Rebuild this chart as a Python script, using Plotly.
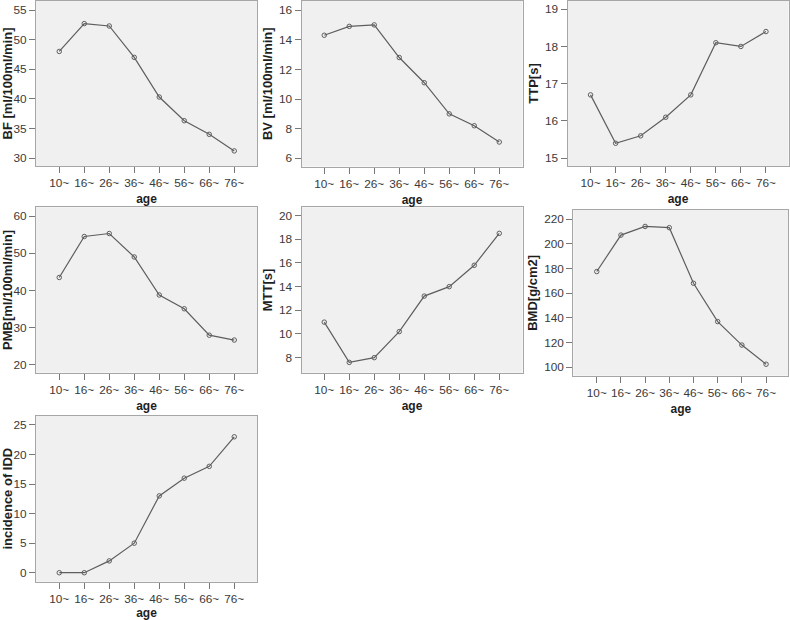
import plotly.graph_objects as go

W, H = 790, 620

age_groups = ["10~", "16~", "26~", "36~", "46~", "56~", "66~", "76~"]

bf_values = [48.0, 52.7, 52.3, 47.0, 40.3, 36.3, 34.0, 31.2]
bv_values = [14.3, 14.9, 15.0, 12.8, 11.1, 9.0, 8.2, 7.1]
ttp_values = [16.7, 15.4, 15.6, 16.1, 16.7, 18.1, 18.0, 18.4]
pmb_values = [43.5, 54.5, 55.3, 49.0, 38.8, 35.1, 28.0, 26.7]
mtt_values = [11.0, 7.6, 8.0, 10.2, 13.2, 14.0, 15.8, 18.5]
bmd_values = [177.5, 207.0, 214.0, 213.0, 168.0, 137.0, 118.0, 102.5]
idd_values = [0, 0, 2, 5, 13, 16, 18, 23]

y_titles = ["BF [ml/100ml/min]", "BV [ml/100ml/min]", "TTP[s]",
            "PMB[ml/100ml/min]", "MTT[s]", "BMD[g/cm2]", "incidence of IDD"]
x_title = "age"

series = [bf_values, bv_values, ttp_values, pmb_values, mtt_values, bmd_values, idd_values]

# panel boxes in pixels: (left, right, top, bottom)
boxes = [
    (36, 257, 1, 166),
    (301.5, 522.5, 1, 166.5),
    (567.5, 788.5, 1, 166),
    (36, 257, 207.3, 372.7),
    (301.5, 522.5, 207.3, 372.7),
    (573.3, 788.3, 210, 375.7),
    (36, 257, 415.7, 581.7),
]
y_ranges = [
    (28.65, 56.52), (5.45, 16.61), (14.79, 19.22),
    (17.93, 62.34), (6.73, 20.7), (93.2, 227.3), (-1.52, 26.57),
]
y_dticks = [5, 2, 1, 10, 2, 20, 5]
x_ranges = [
    (-0.93, 7.91), (-0.91, 7.93), (-0.92, 7.9),
    (-0.93, 7.91), (-0.91, 7.93), (-0.97, 7.92), (-0.93, 7.91),
]

FONT = "Liberation Sans, Arial, sans-serif"
fig = go.Figure()
layout = {}
for i, vals in enumerate(series):
    n = i + 1
    xa = "x" if n == 1 else f"x{n}"
    ya = "y" if n == 1 else f"y{n}"
    fig.add_trace(go.Scatter(
        x=age_groups, y=vals, xaxis=xa, yaxis=ya, mode="lines+markers",
        line=dict(color="#5e5e5e", width=1.2),
        marker=dict(symbol="circle-open", size=4.5, color="#5e5e5e", line=dict(width=1)),
        showlegend=False, hoverinfo="x+y",
    ))
    l, r, t, b = boxes[i]
    common = dict(showline=True, mirror=True, linecolor="#a6a6a6", linewidth=1,
                  showgrid=False, zeroline=False, ticks="outside", ticklen=6,
                  tickcolor="#777777", tickwidth=1, automargin=False,
                  tickfont=dict(family=FONT, size=11.8, color="#3a3a3a"))
    layout["xaxis" if n == 1 else f"xaxis{n}"] = dict(
        common, domain=[l / W, r / W], anchor=ya, type="category",
        range=list(x_ranges[i]),
        title=dict(text=x_title, font=dict(family=FONT, size=12, color="#1e1e1e", weight="bold"),
                   standoff=5),
    )
    layout["yaxis" if n == 1 else f"yaxis{n}"] = dict(
        common, domain=[1 - b / H, 1 - t / H], anchor=xa,
        range=list(y_ranges[i]), dtick=y_dticks[i], tick0=0,
        title=dict(text=y_titles[i], font=dict(family=FONT, size=13, color="#1e1e1e", weight="bold"),
                   standoff=3),
    )

fig.update_layout(
    width=W, height=H, margin=dict(l=0, r=0, t=0, b=0, pad=0),
    paper_bgcolor="white", plot_bgcolor="#f0f0f0",
    **layout,
)
post = ("document.body.style.margin='0';document.body.style.padding='0';"
        "document.body.style.overflow='hidden';"
        "var gd=document.getElementById('{plot_id}');"
        "Plotly.relayout(gd,{width:%d,height:%d});" % (W, H))
fig.write_html("out.html", config={"responsive": False, "displayModeBar": False},
               post_script=post)
